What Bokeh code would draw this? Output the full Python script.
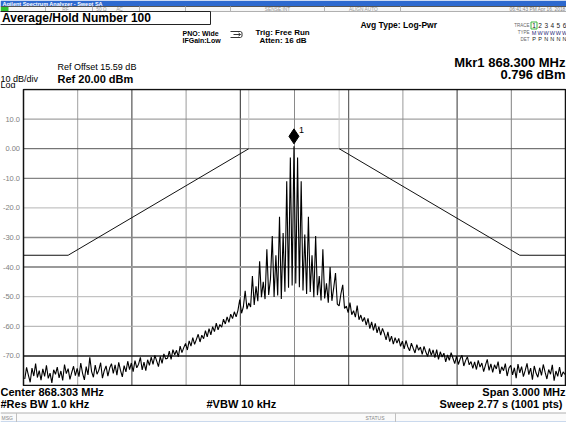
import numpy as np
from bokeh.plotting import figure
from bokeh.layouts import column
from bokeh.models import Range1d, Label, ColumnDataSource
from bokeh.transform import dodge
from bokeh.core.properties import value
from bokeh.embed import file_html
from bokeh.resources import INLINE

FONT = "Liberation Sans"

# ---------------- data ----------------
center_mhz = 868.303
span_mhz = 3.000
ref_level_dbm = 20.00
ref_offset_db = 15.59
scale_db_per_div = 10
n_div = 10
res_bw_khz = 1.0
vbw_khz = 10
sweep_s = 2.77
sweep_pts = 1001
atten_db = 16
avg_hold_number = 100

y_tick_values = [10, 0, -10, -20, -30, -40, -50, -60, -70]
y_tick_labels = ["10.0", "0.00", "-10.0", "-20.0", "-30.0", "-40.0", "-50.0", "-60.0", "-70.0"]

limit_freq_mhz = [866.803, 867.050, 868.050, 868.550, 869.550, 869.803]
limit_dbm = [-36.0, -36.0, 0.0, 0.0, -36.0, -36.0]

trace_start_mhz = 866.800
trace_step_mhz = 0.010
trace_dbm = [
    -75.2, -77.8, -73.9, -76.5, -78.9, -74.1, -76.8, -72.6, -77.3, -75.0,
    -78.2, -74.4, -76.9, -73.2, -77.6, -75.8, -79.1, -74.7, -76.2, -73.8,
    -77.4, -75.1, -78.3, -72.9, -76.0, -74.3, -77.9, -75.6, -73.5, -76.7,
    -74.2, -77.0, -72.4, -75.9, -78.1, -73.6, -76.4, -70.5, -75.3, -77.2,
    -73.1, -76.2, -74.8, -72.3, -77.5, -75.0, -73.4, -76.8, -74.1, -72.6,
    -75.9, -73.0, -76.5, -72.2, -74.9, -77.1, -73.3, -75.4, -71.8, -74.6,
    -72.4, -75.3, -71.6, -74.0, -72.8, -70.5, -74.7, -72.1, -75.0, -71.3,
    -73.2, -70.4, -72.9, -69.8, -71.7, -73.6, -70.2, -72.5, -69.3, -71.0,
    -70.8, -68.4, -71.2, -67.9, -69.6, -68.1, -70.3, -66.7, -68.9, -67.2,
    -65.8, -68.0, -64.9, -66.7, -63.8, -66.1, -64.4, -62.7, -65.3, -63.0,
    -64.2, -61.5, -63.6, -60.8, -62.9, -60.1, -61.8, -58.9, -61.2, -59.4,
    -60.3, -57.6, -59.2, -56.8, -58.7, -55.9, -57.4, -55.1, -56.8, -54.6,
    -51.0, -55.6, -53.4, -48.0, -54.2, -52.1, -53.5, -43.0, -52.8, -46.5,
    -51.5, -38.0, -50.2, -45.0, -50.8, -34.0, -49.4, -44.0, -29.5, -50.1,
    -36.0, -49.6, -23.0, -50.8, -28.5, -48.3, -11.0, -47.0, -3.0, -46.2,
    0.796, -45.5, -3.0, -46.8, -11.0, -47.9, -29.0, -49.1, -23.0, -48.4,
    -36.0, -50.2, -29.5, -49.5, -43.0, -51.3, -34.0, -50.6, -45.5, -52.0,
    -40.0, -51.4, -47.0, -42.0, -52.5, -53.1, -49.0, -46.0, -54.0, -53.2,
    -55.4, -52.0, -56.1, -54.7, -56.9, -53.0, -57.8, -56.2, -58.4, -57.0,
    -59.6, -57.3, -60.8, -58.5, -61.4, -59.0, -62.2, -60.1, -63.0, -60.7,
    -62.4, -64.6, -61.9, -65.2, -63.3, -66.0, -63.8, -65.7, -64.1, -66.8,
    -65.0, -67.6, -64.8, -66.9, -68.3, -65.7, -67.4, -69.0, -66.2, -68.1,
    -67.0, -69.5, -66.8, -68.7, -70.2, -67.5, -69.8, -68.0, -70.6, -67.9,
    -71.2, -68.6, -70.4, -69.1, -72.0, -69.7, -71.5, -68.9, -70.8, -72.6,
    -70.1, -72.9, -71.0, -69.8, -73.4, -71.6, -70.3, -73.0, -71.9, -74.2,
    -72.0, -74.6, -71.5, -73.8, -72.4, -75.3, -73.1, -71.2, -74.9, -72.7,
    -75.6, -73.0, -74.4, -71.9, -76.1, -73.7, -75.0, -72.6, -76.8, -74.1,
    -73.2, -76.4, -74.0, -77.5, -72.8, -75.7, -73.6, -77.0, -74.9, -72.5,
    -76.3, -74.1, -78.0, -73.4, -75.8, -77.2, -74.0, -76.6, -72.9, -75.5,
    -77.8, -74.6, -76.2, -73.0, -78.4, -75.1, -76.9, -73.8, -77.1, -75.4, -76.3,
]

mkr_freq_mhz = 868.300
mkr_dbm = 0.796

# ---------------- helpers ----------------
W = 566


def txt(p, x, y, s, size, color="black", style="normal", align="left", font=FONT):
    p.text(x=[x], y=[y], text=[s], text_font=value(font),
           text_font_size=value(f"{size}px"), text_color=color,
           text_font_style=style, text_align=align, text_baseline="middle")


def blank(h, xr=None, yr=None):
    f = figure(width=W, height=h,
               x_range=xr if xr is not None else Range1d(0, W),
               y_range=yr if yr is not None else Range1d(h, 0),
               toolbar_location=None, output_backend="svg",
               x_axis_location=None, y_axis_location=None,
               min_border_left=0, min_border_right=0, min_border_top=0, min_border_bottom=0,
               outline_line_color=None,
               background_fill_color="white", border_fill_color="white")
    f.xgrid.visible = False
    f.ygrid.visible = False
    return f


# ---------------- header ----------------
hdr = blank(88)
hdr.quad(left=[0], right=[W], top=[0], bottom=[6], fill_color="#2d69cf", line_color=None)
txt(hdr, 2, 3.1, "Agilent Spectrum Analyzer - Swept SA", 5.5, color="white", style="bold")
# status row
hdr.quad(left=[0], right=[W], top=[6], bottom=[11], fill_color="#f6f6f6", line_color=None)
hdr.segment(x0=[0, 0], y0=[6, 11], x1=[W, W], y1=[6, 11],
            line_color=["#555555", "#b0b0b0"], line_width=1)
hdr.quad(left=[0], right=[8], top=[6.5], bottom=[10.5], fill_color="#30c030", line_color=None)
seps = [45, 92, 139, 185, 230, 324, 400]
hdr.segment(x0=seps, y0=[6] * len(seps), x1=seps, y1=[11] * len(seps), line_color="#b5b5b5")
txt(hdr, 65, 8.6, "RF", 4.8, color="#999999", align="center")
txt(hdr, 101, 8.6, "50 Ω", 4.8, color="#999999", align="center")
txt(hdr, 119, 8.6, "AC", 4.8, color="#999999", align="center")
txt(hdr, 277, 8.6, "SENSE:INT", 4.8, color="#999999", align="center")
txt(hdr, 363, 8.6, "ALIGN AUTO", 4.8, color="#999999", align="center")
txt(hdr, 565, 8.6, "06:41:43 PM Apr 16, 2018", 4.8, color="#888888", align="right")
# Average/Hold box
hdr.quad(left=[-1], right=[210], top=[11], bottom=[24], fill_color="white",
         line_color="#222222", line_width=1)
txt(hdr, 1.5, 17.7, f"Average/Hold Number {avg_hold_number}", 12, style="bold")
# settings
txt(hdr, 182, 33, "PNO: Wide", 7, style="bold")
txt(hdr, 182, 39.5, "IFGain:Low", 7, style="bold")
hdr.line(x=[230, 240, 241.5, 241.5, 240, 230], y=[31, 31, 32, 36, 37, 37], line_color="#333333", line_width=1)
hdr.line(x=[233, 240], y=[34, 34], line_color="#333333", line_width=1)
hdr.line(x=[238, 240, 238], y=[32.5, 34, 35.5], line_color="#333333", line_width=1)
txt(hdr, 255, 32, "Trig: Free Run", 8, style="bold")
txt(hdr, 259, 39.5, f"Atten: {atten_db} dB", 8, style="bold")
txt(hdr, 360, 24.5, "Avg Type: Log-Pwr", 8.5, style="bold")
# trace table
txt(hdr, 529, 25, "TRACE", 4.5, color="#666666", align="right")
txt(hdr, 529, 32, "TYPE", 4.5, color="#666666", align="right")
txt(hdr, 529, 38.5, "DET", 4.5, color="#666666", align="right")
hdr.quad(left=[530.5], right=[536.5], top=[21.5], bottom=[28.5], fill_color="white",
         line_color="#3cb43c", line_width=1)
for i, (a, b, c) in enumerate(zip("123456", "MWWWWW", "PPNNNN")):
    xx = 533.5 + i * 6.1
    txt(hdr, xx, 25, a, 6.5, color="#222222", align="center")
    txt(hdr, xx, 32, b, 5.5, color="#2a2a7a", align="center")
    txt(hdr, xx, 38.5, c, 5.5, color="#222222", align="center")
# marker readout
txt(hdr, 565, 62, f"Mkr1 {mkr_freq_mhz:.3f} MHz", 13, style="bold", align="right")
txt(hdr, 565, 74, f"{mkr_dbm:.3f} dBm", 13, style="bold", align="right")
# reference
txt(hdr, 57, 66.5, f"Ref Offset {ref_offset_db:.2f} dB", 9)
txt(hdr, 57, 78, f"Ref {ref_level_dbm:.2f} dBm", 11, style="bold")
txt(hdr, 0, 78.5, f"{scale_db_per_div} dB/div", 9)
txt(hdr, 0, 84, "Log", 9)

# ---------------- main graticule ----------------
x0 = center_mhz - span_mhz / 2
x1 = center_mhz + span_mhz / 2
y_top = ref_level_dbm
y_bot = ref_level_dbm - scale_db_per_div * n_div

MAIN_H = 298
GL, GR, GT, GB = 23, 1, 1, 1          # pixel margins around the graticule
mhz_per_px = span_mhz / (W - GL - GR)
db_per_px = (y_top - y_bot) / (MAIN_H - GT - GB)
main = blank(MAIN_H,
             xr=Range1d(x0 - GL * mhz_per_px, x1 + GR * mhz_per_px),
             yr=Range1d(y_bot - GB * db_per_px, y_top + GT * db_per_px))

# graticule
v_colors = ["#a0a0a0", "#333333", "#9a9a9a", "#2a2a2a", "#8a8a8a", "#444444", "#9a9a9a", "#333333", "#808080"]
v_locs = [x0 + k * span_mhz / n_div for k in range(1, n_div)]
main.segment(x0=v_locs, y0=[y_bot] * len(v_locs), x1=v_locs, y1=[y_top] * len(v_locs),
             line_color=v_colors, line_width=1)
h_colors = ["#8a8a8a", "#555555", "#666666", "#b5b5b5", "#8a8a8a", "#9a9a9a", "#b5b5b5", "#aaaaaa", "#1a1a1a"]
h_widths = [1, 1, 1, 1, 1.5, 2, 1, 1, 1.5]
main.segment(x0=[x0] * len(y_tick_values), y0=y_tick_values, x1=[x1] * len(y_tick_values), y1=y_tick_values,
             line_color=h_colors, line_width=h_widths)
main.text(x=[x0] * len(y_tick_values), y=y_tick_values, text=y_tick_labels, x_offset=-3.5,
          text_font=value(FONT), text_font_size=value("7.5px"), text_color="#808080",
          text_align="right", text_baseline="middle")

# limit line
main.segment(x0=[limit_freq_mhz[2], limit_freq_mhz[3]], y0=[limit_dbm[2], limit_dbm[3]],
             x1=[limit_freq_mhz[2], limit_freq_mhz[3]], y1=[y_top, y_top],
             line_color="#c8c8c8", line_width=1)
main.line(limit_freq_mhz[:3], limit_dbm[:3], line_color="#111111", line_width=1)
main.line(limit_freq_mhz[3:], limit_dbm[3:], line_color="#111111", line_width=1)

# trace (kept inside the graticule)
trace_freq = trace_start_mhz + trace_step_mhz * np.arange(len(trace_dbm))
keep = trace_freq >= x0
main.line(trace_freq[keep], np.array(trace_dbm)[keep], line_color="black", line_width=1.1)

# graticule frame
main.quad(left=[x0], right=[x1], bottom=[y_bot], top=[y_top], fill_color=None,
          line_color="#111111", line_width=1.5)

# marker
mk = ColumnDataSource(dict(x=[mkr_freq_mhz], y=[mkr_dbm]))
main.scatter(x="x", y=dodge("y", 10 * db_per_px, range=main.y_range), source=mk,
             marker="diamond", size=15, fill_color="black", line_color="black")
main.text(x=[mkr_freq_mhz], y=[mkr_dbm], text=["1"], x_offset=5, y_offset=-16,
          text_font=value(FONT), text_font_size=value("9px"), text_color="black",
          text_align="left", text_baseline="middle")

# ---------------- footer ----------------
ftr = blank(36)
txt(ftr, 0, 5.5, f"Center {center_mhz:.3f} MHz", 11, style="bold")
txt(ftr, 0, 17, f"#Res BW {res_bw_khz:.1f} kHz", 11, style="bold")
txt(ftr, 206, 17, f"#VBW {vbw_khz} kHz", 11, style="bold")
txt(ftr, 565, 5.5, f"Span {span_mhz:.3f} MHz", 11, style="bold", align="right")
txt(ftr, 565, 17, f"Sweep  {sweep_s:.2f} s ({sweep_pts} pts)", 11, style="bold", align="right")
ftr.quad(left=[0], right=[W], top=[26.5], bottom=[36], fill_color="#fafafa", line_color=None)
ftr.segment(x0=[0, 0, 16, 395], y0=[26.5, 35.5, 26.5, 26.5], x1=[W, W, 16, 395], y1=[26.5, 35.5, 36, 36],
            line_color=["#b0b0b0", "#9bb8e0", "#c0c0c0", "#c0c0c0"], line_width=1)
txt(ftr, 1, 31.2, "MSG", 5, color="#888888")
txt(ftr, 365, 31.2, "STATUS", 5, color="#888888")

layout = column(hdr, main, ftr, spacing=0)
open("out.html", "w").write(file_html(layout, INLINE))
